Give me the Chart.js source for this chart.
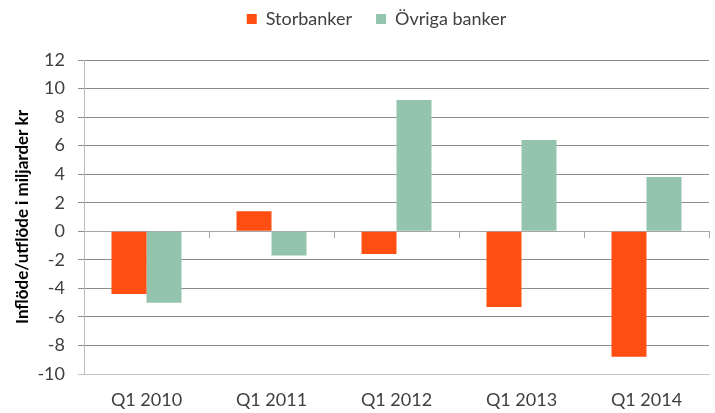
<!DOCTYPE html>
<html>
<head>
<meta charset="utf-8">
<script src="https://cdn.jsdelivr.net/npm/chart.js@4"></script>
<style>
  html, body { margin: 0; padding: 0; background: #fff; }
  #wrap { width: 715px; height: 413px; }
</style>
</head>
<body>
<div id="wrap"><canvas id="flowChart"></canvas></div>
<script>
// Data
const categories = ['Q1 2010', 'Q1 2011', 'Q1 2012', 'Q1 2013', 'Q1 2014'];
const storbanker = [-4.4, 1.4, -1.6, -5.3, -8.8];
const ovrigaBanker = [-5.0, -1.7, 9.2, 6.4, 3.8];
const yMin = -10;
const yMax = 12;
const yStep = 2;

const FONT = 'Lato, "Open Sans", sans-serif';

// legend: a bit more room below it, and nudged right like the original
const legendTweak = {
    id: 'legendTweak',
    beforeInit(chart) {
        const fit = chart.legend.fit;
        chart.legend.fit = function () {
            fit.call(this);
            this.height += 22;
        };
    },
    afterLayout(chart) {
        chart.legend.left += 16;
        chart.legend.right += 16;
    }
};

function initializeChart() {
    const ctx = document.getElementById('flowChart').getContext('2d');
    new Chart(ctx, {
        type: 'bar',
        data: {
            labels: categories,
            datasets: [
                {
                    label: 'Storbanker',
                    data: storbanker,
                    backgroundColor: '#FF4E11'
                },
                {
                    label: 'Övriga banker',
                    data: ovrigaBanker,
                    backgroundColor: '#95C4AE'
                }
            ]
        },
        options: {
            responsive: true,
            maintainAspectRatio: false,
            animation: false,
            layout: { padding: { top: -14, right: 6, bottom: 0, left: 12 } },
            datasets: {
                bar: { categoryPercentage: 0.56, barPercentage: 1.0 }
            },
            plugins: {
                legend: {
                    position: 'top',
                    labels: {
                        boxWidth: 10,
                        boxHeight: 10,
                        padding: 24,
                        color: '#404040',
                        font: { family: FONT, size: 18 }
                    }
                },
                tooltip: { enabled: false }
            },
            scales: {
                x: {
                    offset: true,
                    grid: { display: false, drawTicks: false },
                    border: { color: '#c6c6c6' },
                    ticks: {
                        color: '#404040',
                        padding: 15,
                        font: { family: FONT, size: 18 }
                    },
                    afterFit: scale => { scale.height = 39; }
                },
                xZero: {
                    axis: 'x',
                    type: 'category',
                    position: { y: 0 },
                    offset: true,
                    grid: {
                        offset: true,
                        drawOnChartArea: false,
                        drawTicks: true,
                        tickLength: 6,
                        color: '#a6a6a6'
                    },
                    border: { color: '#a6a6a6' },
                    ticks: { display: false }
                },
                y: {
                    min: yMin,
                    max: yMax,
                    border: { color: '#bcbcbc' },
                    grid: {
                        tickLength: 6,
                        color: c => (c.tick && c.tick.value === yMin) ? '#c6c6c6' : '#8c8c8c'
                    },
                    ticks: {
                        stepSize: yStep,
                        color: '#404040',
                        padding: 13,
                        font: { family: FONT, size: 18 }
                    },
                    title: {
                        display: true,
                        text: 'Inflöde/utflöde i miljarder kr',
                        color: '#000',
                        padding: { top: 0, bottom: 4 },
                        font: { family: FONT, size: 17, weight: 'bold' }
                    },
                    afterFit: scale => { scale.width = 72; }
                }
            }
        },
        plugins: [legendTweak]
    });
}

document.addEventListener('DOMContentLoaded', initializeChart);
</script>
</body>
</html>
